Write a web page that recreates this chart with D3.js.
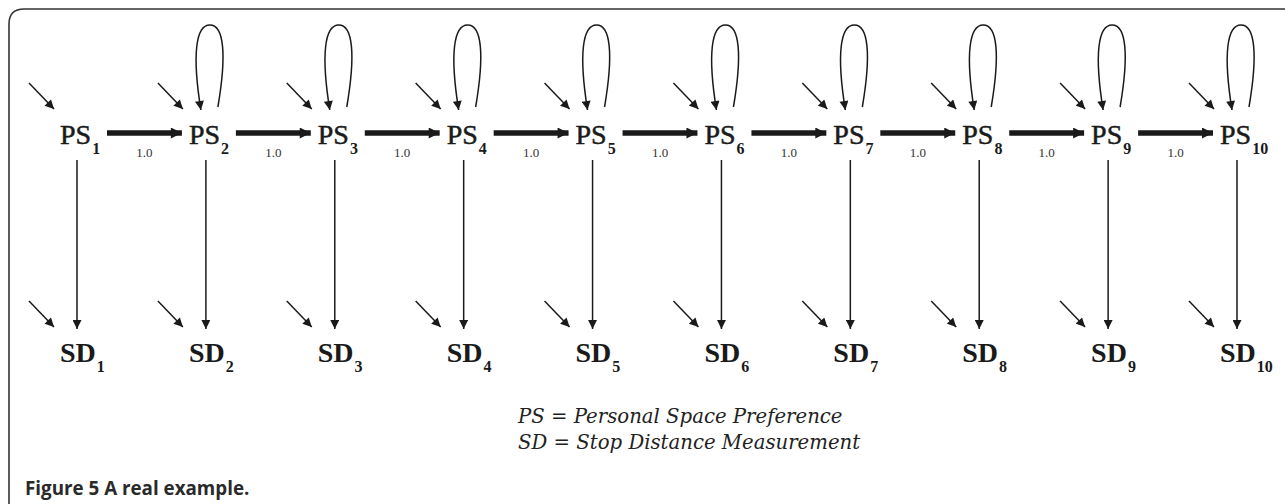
<!DOCTYPE html>
<html>
<head>
<meta charset="utf-8">
<script src="https://d3js.org/d3.v7.min.js"></script>
<style>
  body { margin: 0; background: #fff; }
</style>
</head>
<body>
<svg id="chart" width="1285" height="504"></svg>
<script>
// model data
var waves = [1, 2, 3, 4, 5, 6, 7, 8, 9, 10];
var rows = ["PS", "SD"];
var pathCoefs = ["1.0", "1.0", "1.0", "1.0", "1.0", "1.0", "1.0", "1.0", "1.0"];
var loopWaves = [2, 3, 4, 5, 6, 7, 8, 9, 10];
var legendLines = ["PS = Personal Space Preference", "SD = Stop Distance Measurement"];
var captionBold = "Figure 5";
var captionText = " A real example.";

var svg = d3.select("svg#chart");
var ink = "#1a1a1a";

var x = d3.scalePoint().domain(waves).range([77, 1237]);
var y = d3.scalePoint().domain(rows).range([144, 362]);

var defs = svg.append("defs");
function marker(id, w, h) {
    defs.append("marker")
        .attr("id", id)
        .attr("viewBox", "0 0 10 10")
        .attr("refX", 10)
        .attr("refY", 5)
        .attr("markerUnits", "userSpaceOnUse")
        .attr("markerWidth", w)
        .attr("markerHeight", h)
        .attr("orient", "auto")
        .append("path")
        .attr("d", "M0,0 L10,5 L0,10 Z")
        .attr("fill", ink);
}
marker("thin", 10, 9);
marker("thick", 13, 11);

// frame
svg.append("path")
    .attr("d", "M9,504 L9,24 Q9,9 24,9 L1285,9")
    .attr("fill", "none")
    .attr("stroke", "#333")
    .attr("stroke-width", 1.6);

var g = svg.append("g");

// error arrows into every node
rows.forEach(function(r) {
    g.selectAll("line.err-" + r)
        .data(waves)
        .enter()
        .append("line")
        .attr("class", "err-" + r)
        .attr("x1", d => x(d) - 48)
        .attr("y1", y(r) - 61)
        .attr("x2", d => x(d) - 23)
        .attr("y2", y(r) - 35)
        .attr("stroke", ink)
        .attr("stroke-width", 1.5)
        .attr("marker-end", "url(#thin)");
});

// PS -> SD
g.selectAll("line.meas")
    .data(waves)
    .enter()
    .append("line")
    .attr("class", "meas")
    .attr("x1", d => x(d))
    .attr("y1", y("PS") + 16)
    .attr("x2", d => x(d))
    .attr("y2", y("SD") - 33)
    .attr("stroke", ink)
    .attr("stroke-width", 1.5)
    .attr("marker-end", "url(#thin)");

// PS_i -> PS_i+1
var links = pathCoefs.map((c, i) => ({ from: waves[i], to: waves[i + 1], coef: c }));
g.selectAll("line.auto")
    .data(links)
    .enter()
    .append("line")
    .attr("class", "auto")
    .attr("x1", d => x(d.from) + 30)
    .attr("y1", y("PS") - 11)
    .attr("x2", d => x(d.to) - 24)
    .attr("y2", y("PS") - 11)
    .attr("stroke", ink)
    .attr("stroke-width", 5.5)
    .attr("marker-end", "url(#thick)");

g.selectAll("text.coef")
    .data(links)
    .enter()
    .append("text")
    .attr("class", "coef")
    .attr("x", d => (x(d.from) + x(d.to)) / 2 + 3)
    .attr("y", y("PS") + 13)
    .attr("text-anchor", "middle")
    .attr("font-family", "Liberation Serif")
    .attr("font-size", "13px")
    .attr("fill", "#333")
    .text(d => d.coef);

// self loops
g.selectAll("path.loop")
    .data(loopWaves)
    .enter()
    .append("path")
    .attr("class", "loop")
    .attr("d", d => {
        var c = x(d), b = y("PS");
        return "M" + (c + 12) + "," + (b - 37) +
            " C" + (c + 21) + "," + (b - 90) + " " + (c + 18) + "," + (b - 119) + " " + (c + 4) + "," + (b - 119) +
            " C" + (c - 10) + "," + (b - 119) + " " + (c - 14) + "," + (b - 90) + " " + (c - 5) + "," + (b - 34);
    })
    .attr("fill", "none")
    .attr("stroke", ink)
    .attr("stroke-width", 1.5)
    .attr("marker-end", "url(#thin)");

// node labels
rows.forEach(function(r) {
    var t = g.selectAll("text.node-" + r)
        .data(waves)
        .enter()
        .append("text")
        .attr("class", "node-" + r)
        .attr("x", d => x(d) - 17)
        .attr("y", y(r))
        .attr("font-family", "Liberation Serif")
        .attr("font-weight", r === "SD" ? "bold" : "normal")
        .attr("font-size", "28px")
        .attr("fill", ink)
        .attr("stroke", r === "PS" ? ink : "none")
        .attr("stroke-width", 0.5);
    t.append("tspan").text(r);
    t.append("tspan")
        .attr("dx", 1)
        .attr("dy", 10)
        .attr("font-size", "16px")
        .attr("font-weight", "bold")
        .attr("stroke", "none")
        .text(d => d);
});

// legend
svg.selectAll("text.legend")
    .data(legendLines)
    .enter()
    .append("text")
    .attr("class", "legend")
    .attr("x", 518)
    .attr("y", (d, i) => 423 + i * 26)
    .attr("font-family", "DejaVu Serif")
    .attr("font-style", "italic")
    .attr("font-size", "19.7px")
    .attr("fill", "#222")
    .text(d => d);

// caption
var cap = svg.append("text")
    .attr("x", 25)
    .attr("y", 495)
    .attr("font-family", "Open Sans")
    .attr("font-weight", "bold")
    .attr("font-size", "18.8px")
    .attr("fill", "#2a2a2a");
cap.append("tspan").text(captionBold);
cap.append("tspan").text(captionText);
</script>
</body>
</html>
